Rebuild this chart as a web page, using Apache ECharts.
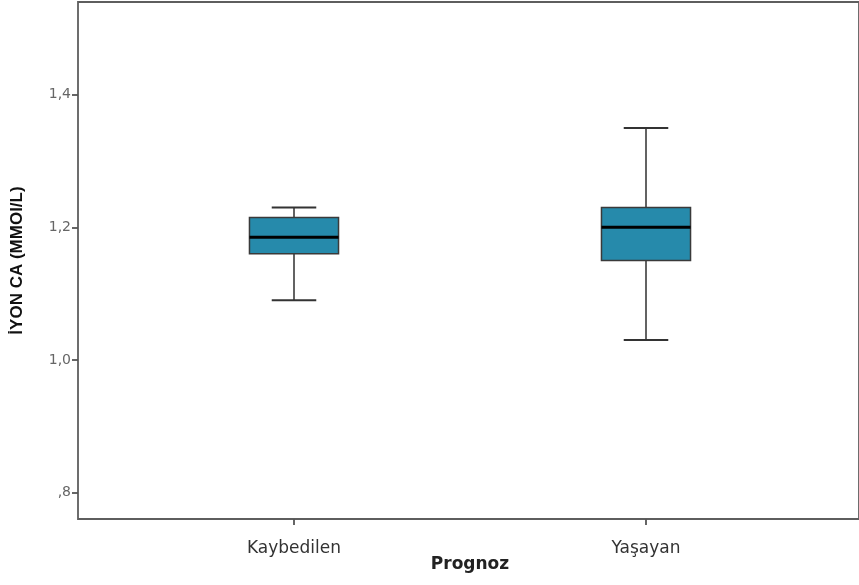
<!DOCTYPE html>
<html>
<head>
<meta charset="utf-8">
<style>
  html, body { margin: 0; padding: 0; background: #ffffff; }
  #chart { width: 859px; height: 585px; }
</style>
<script src="https://cdn.jsdelivr.net/npm/echarts@6/dist/echarts.min.js"></script>
</head>
<body>
<div id="chart"></div>
<script>
// Prognosis groups and the box-plot summary of ionised calcium (mmol/L)
const categories = ['Kaybedilen', 'Yaşayan'];
const whiskerLow  = [1.09, 1.03];
const quartile1   = [1.16, 1.15];
const medians     = [1.185, 1.20];
const quartile3   = [1.215, 1.23];
const whiskerHigh = [1.23, 1.35];
const yTicks = [0.8, 1.0, 1.2, 1.4];

const boxData = categories.map((c, i) => [i, whiskerLow[i], quartile1[i], medians[i], quartile3[i], whiskerHigh[i]]);

const fmt = v => {
  let s = v.toFixed(1).replace('.', ',');
  if (s.startsWith('0')) s = s.slice(1);
  return s;
};

const chart = echarts.init(document.getElementById('chart'), null, { renderer: 'canvas' });

function renderBox(params, api) {
  const x = api.value(0);
  const pLow = api.coord([x, api.value(1)]);
  const pQ1 = api.coord([x, api.value(2)]);
  const pMed = api.coord([x, api.value(3)]);
  const pQ3 = api.coord([x, api.value(4)]);
  const pHigh = api.coord([x, api.value(5)]);
  const band = api.size([1, 0])[0];
  const bw = band * 0.253;
  const cw = bw / 2;
  const cx = pMed[0];
  const lineStyle = { stroke: '#3c3c3c', lineWidth: 1.6 };
  return {
    type: 'group',
    children: [
      { type: 'line', shape: { x1: cx, y1: pQ3[1], x2: cx, y2: pHigh[1] }, style: lineStyle },
      { type: 'line', shape: { x1: cx, y1: pQ1[1], x2: cx, y2: pLow[1] }, style: lineStyle },
      { type: 'line', shape: { x1: cx - cw / 2, y1: pHigh[1], x2: cx + cw / 2, y2: pHigh[1] }, style: { stroke: '#333', lineWidth: 2 } },
      { type: 'line', shape: { x1: cx - cw / 2, y1: pLow[1], x2: cx + cw / 2, y2: pLow[1] }, style: { stroke: '#333', lineWidth: 2 } },
      { type: 'rect', shape: { x: cx - bw / 2, y: pQ3[1], width: bw, height: pQ1[1] - pQ3[1] },
        style: { fill: '#268aab', stroke: '#3a3a3a', lineWidth: 1.5 } },
      { type: 'line', shape: { x1: cx - bw / 2, y1: pMed[1], x2: cx + bw / 2, y2: pMed[1] },
        style: { stroke: '#000000', lineWidth: 3 } }
    ]
  };
}

const yMin = 0.76, yMax = 1.54;

chart.setOption({
  animation: false,
  backgroundColor: '#ffffff',
  grid: [
    { left: 78, top: 2, right: -5, bottom: 66, show: true, borderColor: '#5e5e5e', borderWidth: 1.8, backgroundColor: 'transparent' },
    { left: 118, top: 2, right: 37, bottom: 66 }
  ],
  xAxis: [
    { gridIndex: 0, type: 'value', min: 0, max: 1, show: false },
    {
      gridIndex: 1, type: 'category', data: categories, boundaryGap: true,
      axisLine: { show: false },
      axisTick: { show: true, alignWithLabel: true, length: 6, lineStyle: { color: '#555', width: 1.8 } },
      axisLabel: { margin: 21, fontFamily: 'DejaVu Sans', fontSize: 17, color: '#333' },
      name: 'Prognoz', nameLocation: 'middle', nameGap: 37, nameMoveOverlap: false,
      nameTextStyle: { fontFamily: 'DejaVu Sans', fontWeight: 'bold', fontSize: 17, color: '#222' }
    }
  ],
  yAxis: [
    {
      gridIndex: 0, type: 'value', min: yMin, max: yMax,
      axisLine: { show: false },
      splitLine: { show: false },
      axisTick: { show: true, length: 6, customValues: yTicks, lineStyle: { color: '#555', width: 1.8 } },
      axisLabel: { customValues: yTicks, formatter: fmt, margin: 7, fontFamily: 'DejaVu Sans', fontSize: 14, color: '#666' },
      name: 'İYON CA (MMOl/L)', nameLocation: 'middle', nameGap: 52, nameRotate: 90, nameMoveOverlap: false,
      nameTextStyle: { fontFamily: 'Liberation Sans', fontWeight: 'bold', fontSize: 17, color: '#111' }
    },
    { gridIndex: 1, type: 'value', min: yMin, max: yMax, show: false }
  ],
  series: [
    {
      type: 'custom', xAxisIndex: 1, yAxisIndex: 1,
      renderItem: renderBox,
      encode: { x: 0, y: [1, 2, 3, 4, 5] },
      data: boxData
    }
  ]
});
</script>
</body>
</html>
